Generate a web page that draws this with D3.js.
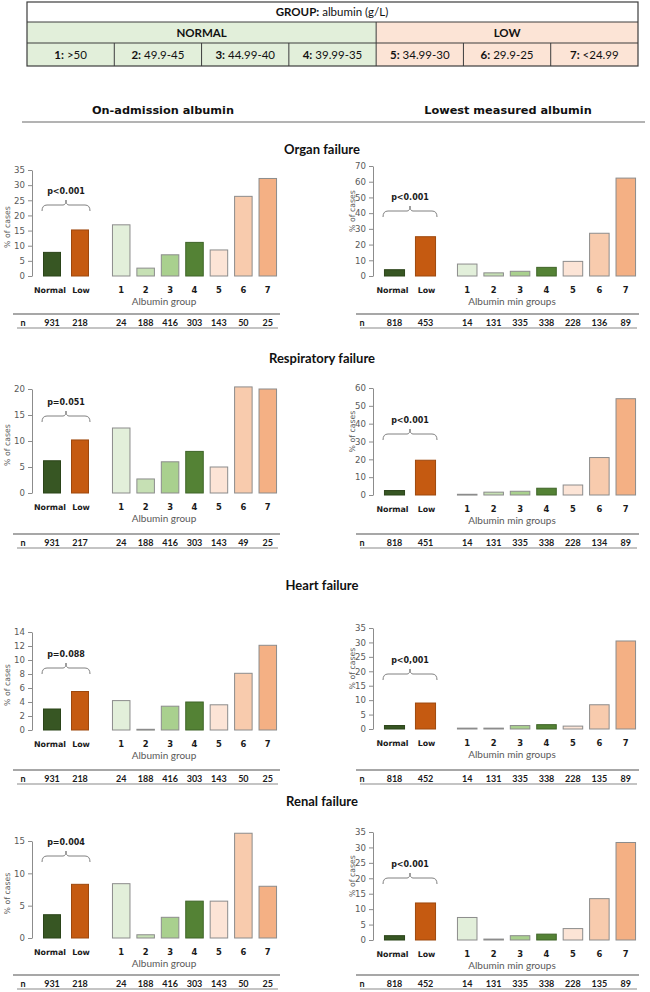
<!DOCTYPE html>
<html><head><meta charset="utf-8">
<script src="https://cdn.jsdelivr.net/npm/d3@7"></script>
<style>
body{margin:0;background:#fff;}
svg{display:block;}
</style></head><body>
<script>
// ---------------- DATA ----------------
const outcomes = ["Organ failure","Respiratory failure","Heart failure","Renal failure"];
const summaryCats = ["Normal","Low"];
const groups = ["1","2","3","4","5","6","7"];
const tableRanges = [">50","49.9-45","44.99-40","39.99-35","34.99-30","29.9-25","<24.99"];
const tableClasses = ["NORMAL","LOW"];
const classOfGroup = ["NORMAL","NORMAL","NORMAL","NORMAL","LOW","LOW","LOW"];

// On-admission albumin (% of cases)
const admSummary = [[7.8,15.2],[6.2,10.2],[3.0,5.5],[3.6,8.3]];
const admGroups = [
  [16.9,2.6,7.0,11.1,8.6,26.3,32.2],
  [12.5,2.7,6.0,8.0,5.0,20.4,20.0],
  [4.2,0.1,3.4,4.0,3.6,8.1,12.1],
  [8.4,0.5,3.2,5.7,5.7,16.2,8.0]
];
const admNSummary = [[931,218],[931,217],[931,218],[931,218]];
const admNGroups = [
  [24,188,416,303,143,50,25],
  [24,188,416,303,143,49,25],
  [24,188,416,303,143,50,25],
  [24,188,416,303,143,50,25]
];
const admP = ["p<0.001","p=0.051","p=0.088","p=0.004"];
const admYMax = [35,20,14,15];
const admStep = [5,5,2,5];

// Lowest measured albumin (% of cases)
const minSummary = [[4.0,25.0],[2.5,19.5],[1.2,9.0],[1.4,12.0]];
const minGroups = [
  [7.6,2.0,3.0,5.5,9.3,27.2,62.3],
  [0.4,1.6,2.1,3.8,5.6,21.0,54.0],
  [0.3,0.3,1.2,1.5,1.0,8.4,30.5],
  [7.3,0.3,1.4,1.9,3.7,13.4,31.6]
];
const minNSummary = [[818,453],[818,451],[818,452],[818,452]];
const minNGroups = [
  [14,131,335,338,228,136,89],
  [14,131,335,338,228,134,89],
  [14,131,335,338,228,135,89],
  [14,131,335,338,228,135,89]
];
const minP = ["p<0.001","p<0.001","p<0,001","p<0.001"];
const minYMax = [70,60,35,35];
const minStep = [10,10,5,5];

// ---------------- STYLE / LAYOUT ----------------
const sumColors = ["#375623","#c55a11"];
const sumStroke = ["#2b4419","#9e480d"];
const grpColors = ["#e2efda","#c6e0b4","#a9d08e","#548235","#fce4d6","#f8cbad","#f4b084"];
const grpStroke = ["#8c8c8c","#8c8c8c","#8c8c8c","#3f6428","#8c8c8c","#8c8c8c","#8c8c8c"];

const rows = [
  {title:150, L:{top:170, zero:276, br:205}, R:{top:166, zero:276, br:211}, n:323},
  {title:359, L:{top:389, zero:493, br:416}, R:{top:388, zero:495, br:434}, n:543},
  {title:586, L:{top:632, zero:730, br:668}, R:{top:628, zero:729, br:674}, n:779},
  {title:802, L:{top:841, zero:938, br:856}, R:{top:832, zero:940, br:878}, n:984}
];

const sides = [
  {key:"L", summary:admSummary, grp:admGroups, nS:admNSummary, nG:admNGroups, p:admP,
   ymax:admYMax, step:admStep, xTitle:"Albumin group", axisX:32, sumRange:[38,94], sumPad:0.357,
   grpRange:[109,280], grpPad:0.242, nX:23, line:[13,280], ylabX:7, ylabDy:4, xTitleX:164,
   head:"On-admission albumin", headX:163},
  {key:"R", summary:minSummary, grp:minGroups, nS:minNSummary, nG:minNGroups, p:minP,
   ymax:minYMax, step:minStep, xTitle:"Albumin min groups", axisX:373, sumRange:[379,441], sumPad:0.32,
   grpRange:[454,639], grpPad:0.223, nX:362, line:[356,639], ylabX:352, ylabDy:-10, xTitleX:512,
   head:"Lowest measured albumin", headX:508}
];

const svg = d3.select("body").append("svg").attr("width",650).attr("height",992)
  .style("font-family","Lato, 'Open Sans', sans-serif");

// ---------------- HEADER TABLE ----------------
const tx = d3.scaleBand().domain(groups).range([27,638]);
const tY = [2,22,43,66];
const tbl = svg.append("g");
tbl.append("rect").attr("x",27).attr("y",tY[0]).attr("width",611).attr("height",tY[1]-tY[0]).attr("fill","#fff");
const tHead = tbl.append("text").attr("x",332).attr("y",(tY[0]+tY[1])/2+4).attr("text-anchor","middle")
  .style("font-size","11.5px").attr("fill","#111");
tHead.append("tspan").style("font-weight","bold").text("GROUP:");
tHead.append("tspan").text(" albumin (g/L)");

tableClasses.forEach(c=>{
  const gs = groups.filter((g,i)=>classOfGroup[i]===c);
  const x0 = tx(gs[0]), x1 = tx(gs[gs.length-1])+tx.bandwidth();
  const fill = c==="NORMAL" ? "#e2efda" : "#fce4d6";
  tbl.append("rect").attr("x",x0).attr("y",tY[1]).attr("width",x1-x0).attr("height",tY[2]-tY[1]).attr("fill",fill);
  tbl.append("text").attr("x",(x0+x1)/2).attr("y",(tY[1]+tY[2])/2+4).attr("text-anchor","middle")
    .style("font-size","11.5px").style("font-weight","bold").attr("fill","#111").text(c);
});
groups.forEach((g,i)=>{
  const fill = classOfGroup[i]==="NORMAL" ? "#e2efda" : "#fce4d6";
  tbl.append("rect").attr("x",tx(g)).attr("y",tY[2]).attr("width",tx.bandwidth()).attr("height",tY[3]-tY[2]).attr("fill",fill);
  const t = tbl.append("text").attr("x",tx(g)+tx.bandwidth()/2).attr("y",(tY[2]+tY[3])/2+4)
    .attr("text-anchor","middle").style("font-size","11.5px").attr("fill","#111");
  t.append("tspan").style("font-weight","bold").text(g+":");
  t.append("tspan").text(" "+tableRanges[i]);
});
// borders
const bc = "#3c3c3c";
tbl.append("rect").attr("x",27).attr("y",tY[0]).attr("width",611).attr("height",tY[3]-tY[0])
  .attr("fill","none").attr("stroke",bc).attr("stroke-width",1.2);
[tY[1],tY[2]].forEach(yv=>tbl.append("line").attr("x1",27).attr("x2",638).attr("y1",yv).attr("y2",yv).attr("stroke",bc).attr("stroke-width",1));
tbl.append("line").attr("x1",tx("5")).attr("x2",tx("5")).attr("y1",tY[1]).attr("y2",tY[3]).attr("stroke",bc).attr("stroke-width",1);
groups.slice(1).forEach(g=>{
  if(g==="5") return;
  tbl.append("line").attr("x1",tx(g)).attr("x2",tx(g)).attr("y1",tY[2]).attr("y2",tY[3]).attr("stroke",bc).attr("stroke-width",1);
});

// ---------------- COLUMN HEADERS ----------------
sides.forEach(s=>{
  svg.append("text").attr("x",s.headX).attr("y",114).attr("text-anchor","middle")
    .style("font-family","'DejaVu Sans', sans-serif").style("font-size","11.3px").style("font-weight","bold")
    .attr("fill","#111").text(s.head);
});
svg.append("line").attr("x1",22).attr("x2",645).attr("y1",122).attr("y2",122).attr("stroke","#9a9a9a").attr("stroke-width",1.3);

// ---------------- PANELS ----------------
rows.forEach((row,r)=>{
  svg.append("text").attr("x",322).attr("y",row.title+4).attr("text-anchor","middle")
    .style("font-size","13px").style("font-weight","bold").attr("fill","#111").text(outcomes[r]);

  sides.forEach(s=>{
    const L = row[s.key];
    const g = svg.append("g");
    const y = d3.scaleLinear().domain([0,s.ymax[r]]).range([L.zero,L.top]);
    const xs = d3.scaleBand().domain(summaryCats).range(s.sumRange).paddingInner(s.sumPad).paddingOuter(s.sumPad/2);
    const xg = d3.scaleBand().domain(groups).range(s.grpRange).paddingInner(s.grpPad).paddingOuter(s.grpPad/2);

    // axis
    const ax = g.append("g").attr("transform",`translate(${s.axisX},0)`)
      .call(d3.axisLeft(y).tickValues(d3.range(0,s.ymax[r]+1e-6,s.step[r])).tickSize(4).tickSizeOuter(0).tickPadding(3));
    ax.attr("font-family",null).attr("font-size",null);
    ax.select(".domain").attr("stroke","#8c8c8c");
    ax.selectAll(".tick line").attr("stroke","#8c8c8c");
    ax.selectAll(".tick text").attr("fill","#595959")
      .style("font-family","'DejaVu Sans', sans-serif").style("font-size","8.6px");

    // y label
    g.append("text").attr("transform",`translate(${s.ylabX},${(L.top+L.zero)/2+s.ylabDy}) rotate(-90)`)
      .attr("text-anchor","middle").attr("dy","0.35em")
      .style("font-family","'DejaVu Sans', sans-serif").style("font-size","7.8px").attr("fill","#595959")
      .text("% of cases");

    // summary bars
    g.selectAll(".sb").data(summaryCats).enter().append("rect")
      .attr("x",d=>xs(d)+0.5).attr("width",xs.bandwidth()-1)
      .attr("y",(d,i)=>y(s.summary[r][i])).attr("height",(d,i)=>Math.max(0.8,L.zero-y(s.summary[r][i])))
      .attr("fill",(d,i)=>sumColors[i]).attr("stroke",(d,i)=>sumStroke[i]).attr("stroke-width",1);

    // group bars
    g.selectAll(".gb").data(groups).enter().append("rect")
      .attr("x",d=>xg(d)+0.5).attr("width",xg.bandwidth()-1)
      .attr("y",(d,i)=>y(s.grp[r][i])).attr("height",(d,i)=>Math.max(0.8,L.zero-y(s.grp[r][i])))
      .attr("fill",(d,i)=>grpColors[i]).attr("stroke",(d,i)=>grpStroke[i]).attr("stroke-width",1);

    // category labels
    const labY = L.zero+17;
    summaryCats.forEach(c=>{
      g.append("text").attr("x",xs(c)+xs.bandwidth()/2+(c==="Normal"?-2:1)).attr("y",labY).attr("text-anchor","middle")
        .style("font-family","'DejaVu Sans', sans-serif").style("font-size","7.9px").style("font-weight","bold")
        .attr("fill","#1a1a1a").text(c);
    });
    groups.forEach(c=>{
      g.append("text").attr("x",xg(c)+xg.bandwidth()/2).attr("y",labY).attr("text-anchor","middle")
        .style("font-family","'DejaVu Sans', sans-serif").style("font-size","8.4px").style("font-weight","bold")
        .attr("fill","#1a1a1a").text(c);
    });
    g.append("text").attr("x",s.xTitleX).attr("y",L.zero+29).attr("text-anchor","middle")
      .style("font-size","10px").attr("fill","#595959").text(s.xTitle);

    // bracket + p
    const bx1 = xs.range()[0]+4, bx2 = xs.range()[1]-4, bxc = (bx1+bx2)/2, by = L.br;
    g.append("path").attr("fill","none").attr("stroke","#808080").attr("stroke-width",1)
      .attr("d",`M${bx1},${by+6} Q${bx1},${by} ${bx1+5},${by} L${bxc-3},${by} Q${bxc},${by} ${bxc},${by-5} Q${bxc},${by} ${bxc+3},${by} L${bx2-5},${by} Q${bx2},${by} ${bx2},${by+6}`);
    g.append("text").attr("x",bxc).attr("y",by-11).attr("text-anchor","middle")
      .style("font-family","'DejaVu Sans', sans-serif").style("font-size","8px").style("font-weight","bold")
      .attr("fill","#1a1a1a").text(s.p[r]);

    // n row
    const ny = row.n;
    g.append("line").attr("x1",s.line[0]).attr("x2",s.line[1]).attr("y1",ny-9).attr("y2",ny-9)
      .attr("stroke","#8a8a8a").attr("stroke-width",1.6);
    g.append("line").attr("x1",s.line[0]+4).attr("x2",s.line[1]-2).attr("y1",ny+5).attr("y2",ny+5)
      .attr("stroke","#8a8a8a").attr("stroke-width",1.1);
    const nt = (x,t)=>g.append("text").attr("x",x).attr("y",ny+3).attr("text-anchor","middle")
      .style("font-size","9px").style("font-weight","bold").attr("fill","#1a1a1a").text(t);
    nt(s.nX,"n");
    summaryCats.forEach((c,i)=>nt(xs(c)+xs.bandwidth()/2, s.nS[r][i]));
    groups.forEach((c,i)=>nt(xg(c)+xg.bandwidth()/2, s.nG[r][i]));
  });
});
</script>
</body></html>
